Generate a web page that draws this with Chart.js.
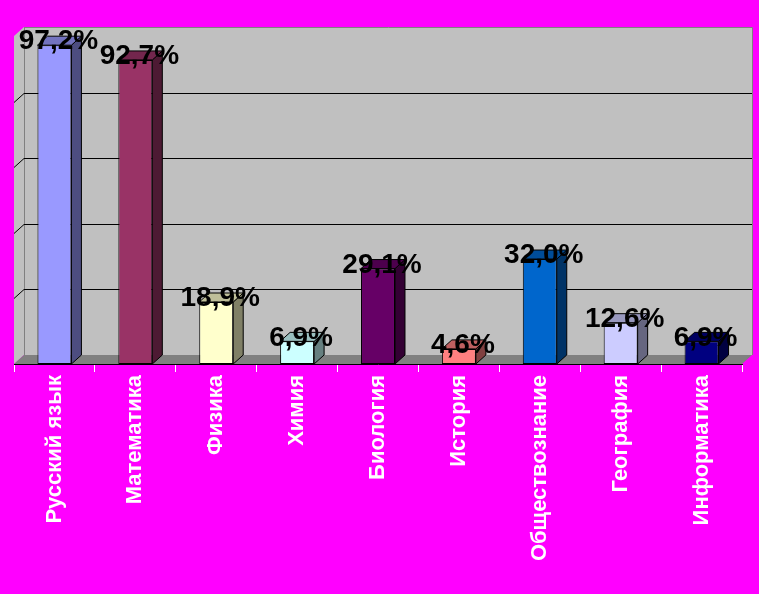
<!DOCTYPE html>
<html>
<head>
<meta charset="utf-8">
<script src="https://cdn.jsdelivr.net/npm/chart.js@4"></script>
<style>
  html, body { margin: 0; padding: 0; background: #FF00FF; }
  #wrap { width: 759px; height: 594px; }
</style>
</head>
<body>
<div id="wrap"><canvas id="myChart" width="759" height="594"></canvas></div>
<script>
var predmety = ['Русский язык', 'Математика', 'Физика', 'Химия', 'Биология', 'История', 'Обществознание', 'География', 'Информатика'];
var procent = [97.2, 92.7, 18.9, 6.9, 29.1, 4.6, 32.0, 12.6, 6.9];
var warna = ['#9999FF', '#993366', '#FFFFCC', '#CCFFFF', '#660066', '#FF8080', '#0066CC', '#CCCCFF', '#000080'];
var setkaY = [20, 40, 60, 80, 100];

var DX = 10, DY = 9;

function tint(hex, f) {
    var n = parseInt(hex.slice(1), 16);
    var r = Math.round(((n >> 16) & 255) * f);
    var g = Math.round(((n >> 8) & 255) * f);
    var b = Math.round((n & 255) * f);
    return 'rgb(' + r + ',' + g + ',' + b + ')';
}

function poly(ctx, pts, fill, stroke) {
    ctx.beginPath();
    ctx.moveTo(pts[0][0], pts[0][1]);
    for (var i = 1; i < pts.length; i++) ctx.lineTo(pts[i][0], pts[i][1]);
    ctx.closePath();
    if (fill) { ctx.fillStyle = fill; ctx.fill(); }
    if (stroke) { ctx.strokeStyle = stroke; ctx.lineWidth = 1; ctx.stroke(); }
}

// back wall, left wall, floor and grid
var steny = {
    id: 'steny',
    beforeDraw: function (chart) {
        var ctx = chart.ctx, a = chart.chartArea, ys = chart.scales.y;
        ctx.save();
        ctx.fillStyle = '#FF00FF';
        ctx.fillRect(0, 0, chart.width, chart.height);
        var L = a.left, R = a.right, T = a.top, B = a.bottom;
        poly(ctx, [[L + DX, T - DY], [R + DX, T - DY], [R + DX, B - DY], [L + DX, B - DY]], '#C0C0C0', null);
        poly(ctx, [[L, T], [L + DX, T - DY], [L + DX, B - DY], [L, B]], '#C0C0C0', null);
        ctx.strokeStyle = '#808080';
        ctx.lineWidth = 1;
        ctx.beginPath();
        ctx.moveTo(L + DX + 0.5, T - DY); ctx.lineTo(L + DX + 0.5, B - DY);
        ctx.moveTo(L + DX, T - DY + 0.5); ctx.lineTo(R + DX + 0.5, T - DY + 0.5);
        ctx.lineTo(R + DX + 0.5, B - DY);
        ctx.stroke();
        ctx.strokeStyle = '#000000';
        setkaY.forEach(function (v) {
            if (v >= 100) return;
            var y = Math.round(ys.getPixelForValue(v)) + 0.5;
            ctx.beginPath();
            ctx.moveTo(L, y);
            ctx.lineTo(L + DX, y - DY);
            ctx.lineTo(R + DX, y - DY);
            ctx.stroke();
        });
        poly(ctx, [[L, B], [R, B], [R + DX, B - DY], [L + DX, B - DY]], '#808080', null);
        ctx.restore();
    },
    afterDatasetsDraw: function (chart) {
        var ctx = chart.ctx;
        var meta = chart.getDatasetMeta(0);
        ctx.save();
        meta.data.forEach(function (bar, i) {
            var w = bar.width, x0 = bar.x - w / 2, x1 = bar.x + w / 2, y = bar.y, b = bar.base;
            poly(ctx, [[x1, y], [x1 + DX, y - DY], [x1 + DX, b - DY], [x1, b]], tint(warna[i], 0.5), '#000000');
            poly(ctx, [[x0, y], [x0 + DX, y - DY], [x1 + DX, y - DY], [x1, y]], tint(warna[i], 0.75), '#000000');
        });
        ctx.font = 'bold 28px "Liberation Sans", Arial, sans-serif';
        ctx.fillStyle = '#000000';
        ctx.textAlign = 'center';
        ctx.textBaseline = 'middle';
        meta.data.forEach(function (bar, i) {
            var t = procent[i].toFixed(1).replace('.', ',') + '%';
            ctx.fillText(t, bar.x + 4, bar.y - DY / 2 + 1);
        });
        ctx.restore();
    }
};

var ctx = document.getElementById('myChart').getContext('2d');
var myChart = new Chart(ctx, {
    type: 'bar',
    data: {
        labels: predmety,
        datasets: [{
            label: 'Процент',
            data: procent,
            backgroundColor: warna,
            borderColor: '#000000',
            borderWidth: 1,
            borderSkipped: false,
            categoryPercentage: 1,
            barPercentage: 0.42
        }]
    },
    options: {
        responsive: false,
        animation: false,
        layout: { padding: { left: 14, right: 17, top: 36, bottom: 0 } },
        plugins: { legend: { display: false }, tooltip: { enabled: false } },
        scales: {
            x: {
                grid: { drawOnChartArea: false, tickLength: 8, color: '#FFFFFF', offset: true },
                border: { color: '#000000', width: 1 },
                ticks: {
                    color: '#FFFFFF',
                    font: { family: '"Liberation Sans", Arial, sans-serif', size: 22, weight: 'bold' },
                    minRotation: 90,
                    maxRotation: 90,
                    padding: 3,
                    autoSkip: false
                },
                afterFit: function (s) { s.height = 230; }
            },
            y: {
                display: false,
                min: 0,
                max: 100,
                ticks: { stepSize: 20 }
            }
        }
    },
    plugins: [steny]
});
</script>
</body>
</html>
